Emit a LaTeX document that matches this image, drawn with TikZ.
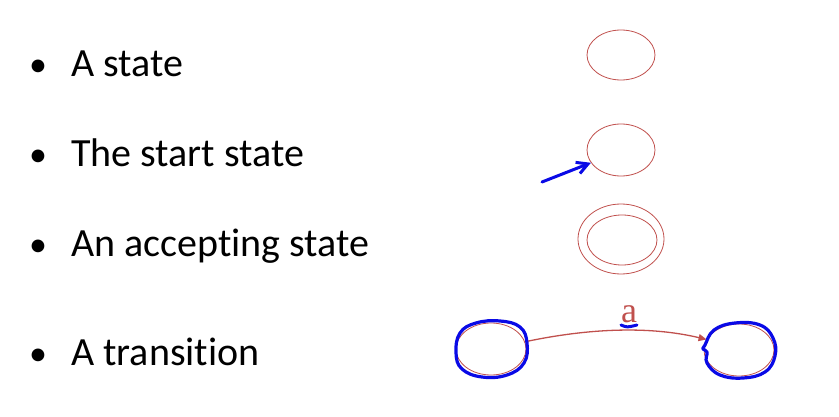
\documentclass[tikz,border=0pt]{standalone}
\usepackage{fontspec}
\setmainfont[Ligatures=NoCommon]{Carlito}
\newfontfamily\labelfont{Liberation Serif}
\usetikzlibrary{shapes.geometric,arrows.meta}
\definecolor{statered}{RGB}{192,80,77}
\definecolor{inkblue}{RGB}{10,10,230}
\begin{document}
\begin{tikzpicture}[x=1pt,y=-1pt,
  item/.style={anchor=base west,inner sep=0pt,font=\fontsize{40}{46}\selectfont},
  dot/.style={anchor=base,inner sep=0pt,font=\fontsize{36}{40}\selectfont},
  statenode/.style={draw=statered,line width=0.8pt,ellipse,inner sep=0pt,minimum width=68pt,minimum height=50pt},
  ink/.style={draw=inkblue,line width=3.2pt,line cap=round,line join=round}]
\useasboundingbox (0,0) rectangle (839,417);

% bullet list
\node[dot] (b1) at (38,77) {•};
\node[item] (t1) at (71,77) {A state};
\node[dot] (b2) at (38,167) {•};
\node[item] (t2) at (71,167) {The start state};
\node[dot] (b3) at (38,257) {•};
\node[item] (t3) at (71,257) {An accepting state};
\node[dot] (b4) at (38,365) {•};
\node[item] (t4) at (71,365) {A transition};

% a state
\node[statenode] (s1) at (621,55) {};

% the start state with its entry arrow
\node[statenode,minimum height=52pt] (s2) at (621,150) {};
\coordinate (entry) at (542,182);
\draw[ink,line width=3pt,-{Straight Barb[length=11pt,width=12pt,line width=3pt]}] (entry) -- (s2.203);

% an accepting state
\node[statenode,minimum width=86pt,minimum height=70pt] (s3o) at (621,239) {};
\node[statenode,minimum width=70pt,minimum height=50pt] (s3i) at (622,240) {};

% a transition
\node[statenode,minimum width=70pt,minimum height=52pt] (p) at (491,349) {};
\node[statenode,minimum width=70pt,minimum height=52pt] (q) at (739,350) {};
\draw[statered,line width=1.3pt,-{Triangle[length=8pt,width=7pt]}]
  (p.12) .. controls (590,328) and (650,326) .. (q.162);
\node[text=statered,font=\labelfont\fontsize{36}{38}\selectfont,anchor=base,inner sep=0pt] (lbl) at (629,322) {a};
\draw[ink,line width=3pt] ([xshift=-8pt,yshift=-3pt]lbl.base) .. controls ([xshift=-2pt,yshift=-5.5pt]lbl.base) .. ([xshift=8pt,yshift=-3pt]lbl.base);

% hand-drawn rings over the transition states
\draw[ink] plot[smooth cycle,tension=0.7] coordinates {
  (456,353) (460,333) (476,323) (500,321) (520,327) (527,343)
  (524,363) (507,375) (482,377) (462,369)};
\draw[ink] plot[smooth cycle,tension=0.7] coordinates {
  (705,345) (714,330) (735,323) (760,325) (773,338) (775,356)
  (765,372) (743,378) (720,375) (707,363) (707,352) (703,349)};
\end{tikzpicture}
\end{document}
